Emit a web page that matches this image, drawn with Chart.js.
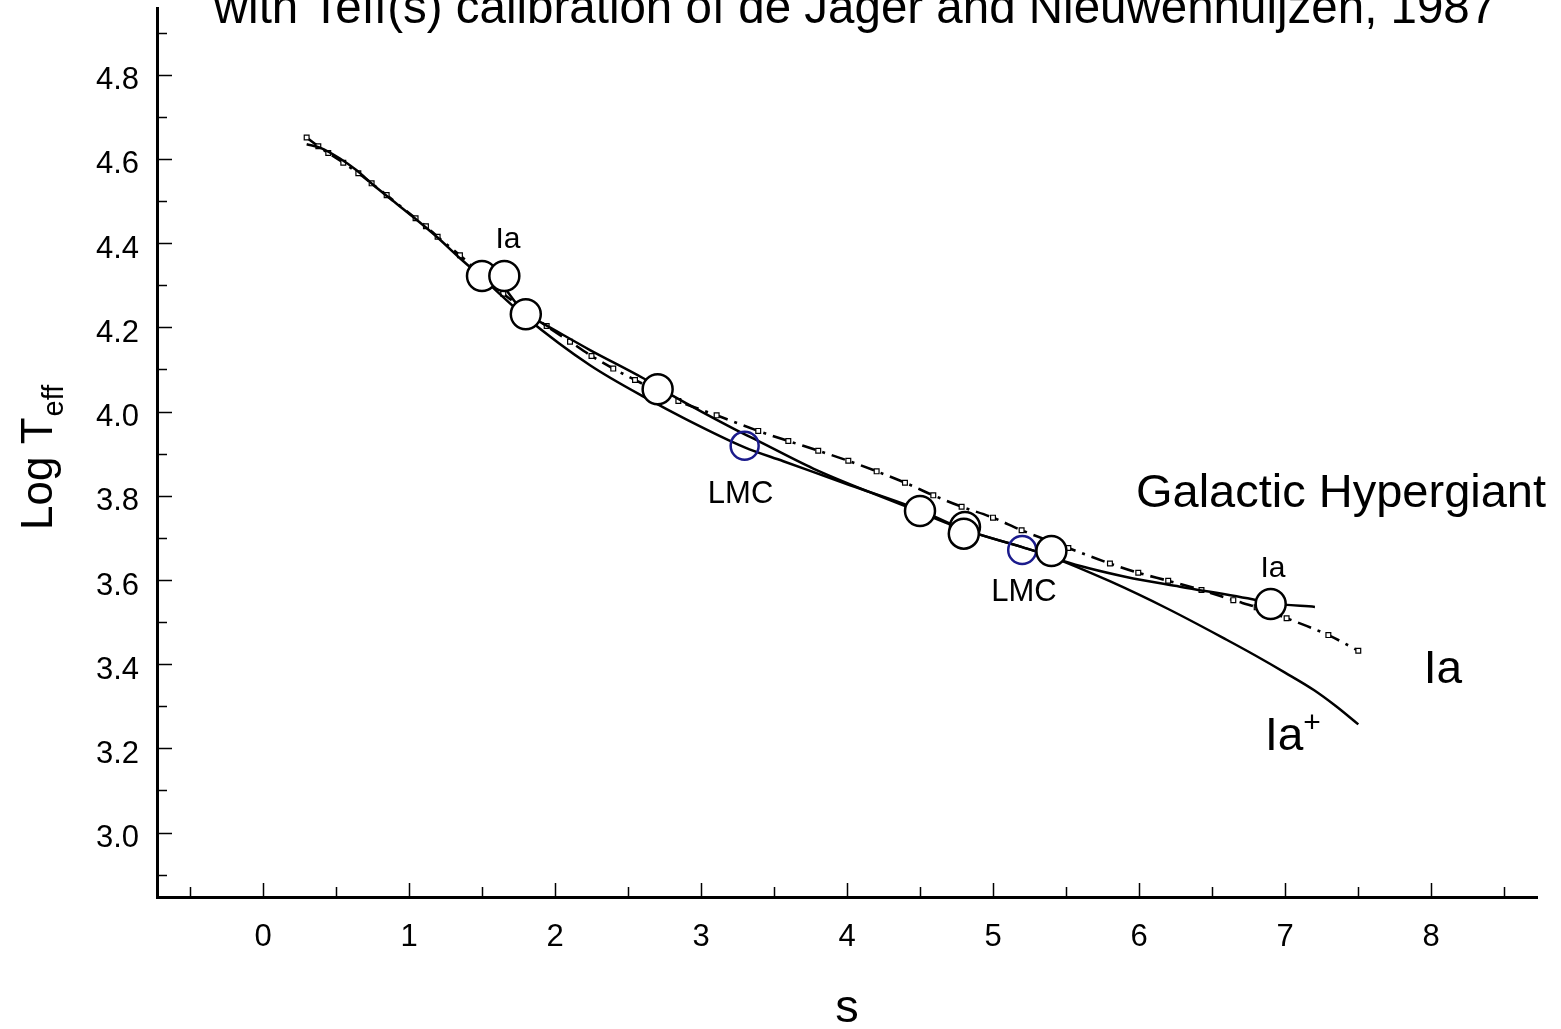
<!DOCTYPE html>
<html>
<head>
<meta charset="utf-8">
<title>Log Teff versus s</title>
<script src="https://cdn.jsdelivr.net/npm/chart.js@4.4.0/dist/chart.umd.min.js"></script>
<style>
  html, body { margin: 0; padding: 0; background: #fff; }
  canvas { display: block; }
</style>
</head>
<body>
<canvas id="chart" width="1561" height="1029"></canvas>
<script>
// Ia+ relation (solid, lower curve)
const iaPlusS    = [0.299, 0.39, 0.527, 0.641, 0.756, 0.87, 1.029, 1.19, 1.349, 1.429, 1.5, 1.8, 2.24, 2.651, 2.879, 3.299, 3.564, 4.021, 4.5, 4.8, 5.2, 5.4, 5.8, 6.2, 6.6, 6.8, 7.0, 7.2, 7.35, 7.502];
const iaPlusLogT = [4.635, 4.627, 4.601, 4.573, 4.538, 4.506, 4.462, 4.415, 4.364, 4.34, 4.318, 4.224, 4.11, 4.027, 3.985, 3.915, 3.882, 3.825, 3.766, 3.72, 3.678, 3.655, 3.597, 3.531, 3.458, 3.42, 3.38, 3.338, 3.30, 3.257];

// Galactic hypergiant relation (solid, short curve)
const hyperS    = [1.62, 1.8, 1.897, 2.24, 2.605, 2.799, 3.219, 3.404, 3.792, 4.409, 4.8, 5.2, 5.4, 5.481, 5.913, 6.281, 6.806, 6.902, 7.205];
const hyperLogT = [4.31, 4.231, 4.213, 4.146, 4.079, 4.039, 3.96, 3.928, 3.861, 3.774, 3.72, 3.678, 3.656, 3.645, 3.607, 3.584, 3.552, 3.545, 3.536];

// Ia relation (dash-dot with square markers)
const iaS    = [0.299, 0.379, 0.447, 0.55, 0.653, 0.744, 0.847, 1.045, 1.116, 1.196, 1.349, 1.646, 1.943, 2.103, 2.25, 2.399, 2.548, 2.845, 3.107, 3.392, 3.598, 3.803, 4.009, 4.203, 4.397, 4.591, 4.785, 5.0, 5.196, 5.516, 5.801, 5.995, 6.2, 6.428, 6.646, 6.806, 7.011, 7.297, 7.502];
const iaLogT = [4.651, 4.63, 4.614, 4.591, 4.566, 4.542, 4.514, 4.459, 4.44, 4.415, 4.371, 4.28, 4.203, 4.166, 4.132, 4.102, 4.075, 4.025, 3.991, 3.954, 3.93, 3.907, 3.883, 3.858, 3.831, 3.801, 3.774, 3.748, 3.718, 3.676, 3.639, 3.617, 3.598, 3.576, 3.552, 3.535, 3.509, 3.469, 3.432];

// galactic stars (open circles)
const starS    = [1.5, 1.653, 1.8, 2.703, 4.5, 4.808, 4.8, 5.4, 6.902];
const starLogT = [4.322, 4.322, 4.231, 4.053, 3.764, 3.726, 3.71, 3.669, 3.543];

// LMC stars (blue circles)
const lmcS    = [3.299, 5.2];
const lmcLogT = [3.919, 3.671];

const FONT = '"Liberation Sans", Arial, Helvetica, sans-serif';
Chart.defaults.font.family = FONT;
Chart.defaults.color = '#000';

const pts = (xs, ys) => xs.map((v, i) => ({ x: v, y: ys[i] }));

function text(ctx, str, px, py, size, align) {
  ctx.font = size + 'px ' + FONT;
  ctx.textAlign = align;
  ctx.textBaseline = 'alphabetic';
  ctx.fillText(str, px, py);
}

const decor = {
  id: 'decor',
  afterDraw(chart) {
    const { ctx, chartArea: a } = chart;
    const x = chart.scales.x, y = chart.scales.y;
    ctx.save();

    // inward tick marks
    ctx.strokeStyle = '#000';
    ctx.lineWidth = 1.5;
    ctx.beginPath();
    for (let k = -1; k <= 17; k++) {
      const px = Math.round(x.getPixelForValue(k / 2)) + 0.5;
      const len = k % 2 === 0 ? 14 : 10;
      ctx.moveTo(px, a.bottom);
      ctx.lineTo(px, a.bottom - len);
    }
    for (let k = 29; k <= 49; k++) {
      const py = Math.round(y.getPixelForValue(k / 10)) + 0.5;
      const len = k % 2 === 0 ? 15 : 10;
      ctx.moveTo(a.left, py);
      ctx.lineTo(a.left + len, py);
    }
    ctx.stroke();

    ctx.fillStyle = '#000';

    // title (clipped at the top, as in the original)
    text(ctx, 'with Teff(s) calibration of de Jager and Nieuwenhuijzen, 1987', 855, 23, 47.5, 'center');

    // axis titles
    text(ctx, 's', 847, 1022, 47, 'center');
    ctx.save();
    ctx.translate(52, 530);
    ctx.rotate(-Math.PI / 2);
    text(ctx, 'Log T', 0, 0, 44, 'left');
    ctx.font = '44px ' + FONT;
    const w = ctx.measureText('Log T').width;
    text(ctx, 'eff', w + 1, 11, 29, 'left');
    ctx.restore();

    // labels in the plot
    const notes = [
      ['Ia', 1.678, 4.389, 30, 'center'],
      ['LMC', 3.271, 3.782, 31, 'center'],
      ['LMC', 5.212, 3.550, 31, 'center'],
      ['Ia', 6.918, 3.607, 30, 'center'],
      ['Galactic Hypergiant', 5.979, 3.773, 47, 'left'],
      ['Ia', 8.082, 3.355, 46, 'center']
    ];
    notes.forEach(n => text(ctx, n[0], x.getPixelForValue(n[1]), y.getPixelForValue(n[2]), n[3], n[4]));

    const ipx = x.getPixelForValue(6.863), ipy = y.getPixelForValue(3.196);
    text(ctx, 'Ia', ipx, ipy, 46, 'left');
    ctx.font = '46px ' + FONT;
    const iw = ctx.measureText('Ia').width;
    text(ctx, '+', ipx + iw, ipy - 18, 30, 'left');

    ctx.restore();
  }
};

new Chart(document.getElementById('chart'), {
  type: 'scatter',
  data: {
    datasets: [
      {
        label: 'Galactic',
        data: pts(starS, starLogT),
        pointRadius: 15,
        pointBackgroundColor: '#fff',
        pointBorderColor: '#000',
        pointBorderWidth: 2.5,
        showLine: false,
        order: 0
      },
      {
        label: 'LMC',
        data: pts(lmcS, lmcLogT),
        pointRadius: 14,
        pointBackgroundColor: 'rgba(0,0,0,0)',
        pointBorderColor: '#1b1b8c',
        pointBorderWidth: 2.5,
        showLine: false,
        order: 0
      },
      {
        label: 'Ia',
        data: pts(iaS, iaLogT),
        showLine: true,
        borderColor: '#000',
        borderWidth: 2.6,
        borderDash: [14, 7, 3, 7],
        cubicInterpolationMode: 'monotone',
        pointStyle: 'rect',
        pointRadius: 3.4,
        pointBackgroundColor: '#fff',
        pointBorderColor: '#000',
        pointBorderWidth: 1.2,
        order: 2
      },
      {
        label: 'Ia+',
        data: pts(iaPlusS, iaPlusLogT),
        showLine: true,
        borderColor: '#000',
        borderWidth: 2.5,
        cubicInterpolationMode: 'monotone',
        pointRadius: 0,
        order: 1
      },
      {
        label: 'Galactic Hypergiant',
        data: pts(hyperS, hyperLogT),
        showLine: true,
        borderColor: '#000',
        borderWidth: 2.5,
        cubicInterpolationMode: 'monotone',
        pointRadius: 0,
        order: 1
      }
    ]
  },
  options: {
    responsive: false,
    animation: false,
    devicePixelRatio: 1,
    layout: { autoPadding: false, padding: { top: 8.6, right: 24, left: 0, bottom: 0 } },
    plugins: {
      legend: { display: false },
      tooltip: { enabled: false }
    },
    scales: {
      x: {
        type: 'linear',
        min: -0.726,
        max: 8.726,
        afterFit: s => { s.height = 132; s.paddingLeft = 0; s.paddingRight = 0; },
        grid: { display: false, drawTicks: false },
        border: { display: true, color: '#000', width: 3 },
        ticks: {
          stepSize: 1,
          includeBounds: false,
          autoSkip: false,
          maxRotation: 0,
          padding: 22,
          font: { size: 31 },
          color: '#000'
        }
      },
      y: {
        type: 'linear',
        min: 2.847,
        max: 4.957,
        afterFit: s => { s.width = 157; s.paddingTop = 0; s.paddingBottom = 0; },
        grid: { display: false, drawTicks: false },
        border: { display: true, color: '#000', width: 3 },
        ticks: {
          stepSize: 0.2,
          includeBounds: false,
          autoSkip: false,
          padding: 18,
          labelOffset: 6,
          font: { size: 31 },
          color: '#000',
          callback: v => Number(v).toFixed(1)
        }
      }
    }
  },
  plugins: [decor]
});
</script>
</body>
</html>
